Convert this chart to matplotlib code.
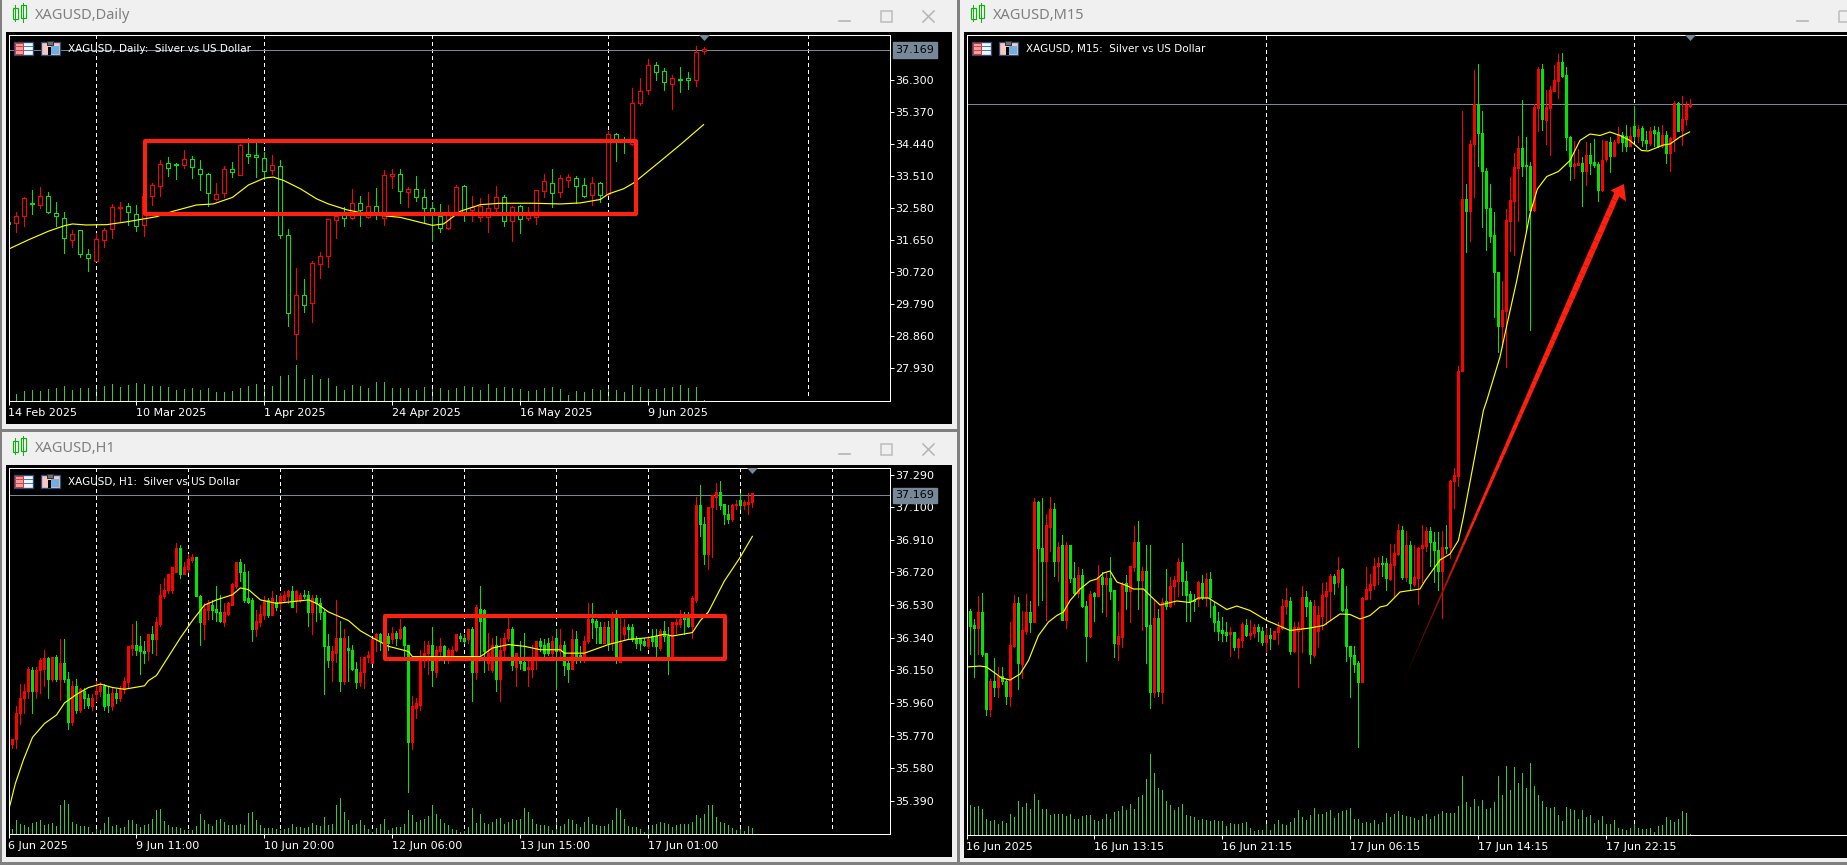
import matplotlib
matplotlib.use('Agg')
import matplotlib.pyplot as plt
from matplotlib.collections import LineCollection
from matplotlib.patches import Rectangle, Polygon
import numpy as np

W, H = 1847, 865
PX = 0.72  # one pixel in points at dpi 100
RED = '#ff0000'
GREEN = '#00e600'
LAST = 37.169

# ---- Daily
daily_open = [32.19,32.14,32.35,32.74,32.68,32.93,32.44,32.30,31.66,31.93,
 31.25,31.04,31.66,31.97,32.58,32.64,32.41,32.08,32.92,33.22,
 33.89,33.86,33.82,34.01,33.72,33.58,32.84,33.01,33.72,33.54,
 34.15,34.12,34.04,33.67,33.80,31.80,28.92,30.06,29.82,30.96,
 31.20,32.24,32.41,32.29,32.74,32.31,32.64,32.29,33.51,33.57,
 33.04,33.14,32.90,32.59,32.36,31.99,32.46,33.22,32.51,32.31,
 32.31,32.59,32.89,32.20,32.64,32.29,32.31,33.07,33.31,33.04,
 33.40,33.46,33.25,32.95,33.31,32.99,34.73,34.54,34.44,35.62,
 35.99,36.73,36.56,36.18,36.32,36.36,36.30,37.14]
daily_high = [32.19,32.48,32.91,33.09,33.20,33.06,32.77,32.48,31.95,31.95,
 31.40,31.85,32.00,32.70,32.76,32.72,32.68,32.94,33.32,33.96,
 34.07,33.89,34.25,34.10,33.96,33.60,33.32,33.81,33.93,34.44,
 34.60,34.46,34.20,34.13,33.96,31.98,30.83,30.53,31.06,31.32,
 32.27,32.45,32.60,33.12,32.94,33.06,33.15,33.67,33.70,33.70,
 33.20,33.52,33.12,32.75,32.70,32.68,33.26,33.25,32.94,32.88,
 32.99,33.22,32.97,32.65,32.68,32.62,33.11,33.57,33.70,33.55,
 33.57,33.51,33.44,33.49,33.34,34.81,34.77,34.65,36.07,36.34,
 36.89,36.83,36.65,36.45,36.66,36.54,37.27,37.25]
daily_low = [32.12,31.88,32.05,32.41,32.57,32.45,32.05,31.27,31.46,31.15,
 30.77,31.04,31.44,31.72,32.22,32.10,31.91,31.78,32.68,32.92,
 33.50,33.41,33.74,33.45,33.09,32.64,32.82,32.89,33.47,33.54,
 33.90,33.47,33.43,33.57,31.71,29.15,28.19,29.58,29.29,30.54,
 30.88,31.70,32.07,32.27,32.05,32.30,32.25,32.08,33.15,32.74,
 32.62,32.78,32.18,31.64,31.90,31.98,32.41,32.22,32.20,32.20,
 31.88,32.49,32.07,31.64,31.85,32.24,32.12,32.89,32.60,32.89,
 33.20,32.73,32.89,32.66,32.75,32.97,33.94,34.17,34.40,35.58,
 35.90,36.28,35.99,35.45,35.96,36.02,36.11,37.05]
daily_close = [32.12,32.35,32.88,32.70,32.93,32.47,32.34,31.71,31.83,31.25,
 31.13,31.69,31.95,32.61,32.61,32.48,32.07,32.94,33.25,33.86,
 33.74,33.83,34.01,33.77,33.56,33.01,32.99,33.72,33.63,34.41,
 34.08,34.06,33.65,33.83,31.81,29.53,30.06,29.77,30.99,31.19,
 32.27,32.36,32.29,32.74,32.51,32.64,32.45,33.54,33.57,33.07,
 33.14,32.89,32.58,32.41,31.99,32.46,33.19,32.44,32.60,32.65,
 32.59,32.89,32.20,32.62,32.27,32.41,33.09,33.37,33.01,33.46,
 33.48,33.23,32.94,33.31,32.95,34.73,34.54,34.51,35.64,35.98,
 36.73,36.53,36.23,36.36,36.29,36.29,37.11,37.18]
daily_vol = [3,20,30,33,29,35,38,45,33,38,38,42,45,50,42,48,54,50,45,45,
 42,33,36,38,33,38,26,27,30,38,45,50,48,45,75,78,108,66,78,66,
 69,45,33,48,45,39,57,57,39,39,39,33,42,39,39,33,39,45,42,33,
 50,39,42,39,36,30,33,39,42,36,18,30,27,36,33,36,33,27,48,42,
 36,36,38,42,48,39,42,3]
daily_ma_i = [0.1,2.5,5,7,8,9.7,12.3,15,17,18.5,20.6,23.5,25.6,28,30,32,33.1,34.4,36.5,38.5,
 40,42.3,44.8,49,53,54.4,56.5,59,61.5,65.6,69,71.5,74,75,76.9,78.1,78.8,81.5,84,86.9]
daily_ma = [31.40,31.66,31.91,32.07,32.12,32.09,32.10,32.19,32.27,32.33,32.49,32.67,32.70,32.89,33.25,33.45,33.48,33.38,33.14,32.85,
 32.70,32.53,32.41,32.31,32.08,32.12,32.49,32.68,32.72,32.72,32.70,32.73,32.83,32.99,33.14,33.30,33.43,33.94,34.42,35.00]
daily_prices = [36.30,35.37,34.44,33.51,32.58,31.65,30.72,29.79,28.86,27.93]
daily_tick_i = [0,16,32,48,64,80]
daily_ticks = ['14 Feb 2025','10 Mar 2025','1 Apr 2025','24 Apr 2025','16 May 2025','9 Jun 2025']
daily_grid = [11,32,53,75,100]

# ---- H1
h1_open = [35.69,35.72,35.75,35.90,35.99,36.03,36.15,36.03,36.15,36.16,
 36.22,36.10,36.23,36.10,36.19,36.10,35.85,36.06,35.92,36.03,
 35.99,35.94,36.01,36.03,36.06,36.01,35.94,36.02,35.99,36.04,
 36.08,36.28,36.30,36.29,36.26,36.26,36.36,36.33,36.42,36.58,
 36.62,36.62,36.72,36.86,36.71,36.74,36.79,36.81,36.58,36.42,
 36.50,36.53,36.51,36.49,36.43,36.48,36.53,36.64,36.78,36.72,
 36.57,36.56,36.39,36.43,36.47,36.56,36.47,36.55,36.54,36.56,
 36.58,36.61,36.56,36.56,36.59,36.59,36.49,36.57,36.54,36.49,
 36.29,36.21,36.25,36.34,36.09,36.28,36.27,36.16,36.08,36.14,
 36.23,36.19,36.33,36.36,36.29,36.35,36.33,36.37,36.34,36.40,
 36.30,35.73,35.93,35.95,36.21,36.25,36.30,36.14,36.26,36.29,
 36.24,36.23,36.27,36.35,36.34,36.33,36.39,36.14,36.51,36.50,
 36.19,36.15,36.30,36.10,36.27,36.34,36.39,36.17,36.23,36.20,
 36.16,36.16,36.21,36.32,36.30,36.31,36.25,36.34,36.26,36.30,
 36.19,36.16,36.33,36.24,36.21,36.32,36.45,36.44,36.40,36.31,
 36.40,36.31,36.46,36.20,36.36,36.40,36.40,36.33,36.33,36.32,
 36.29,36.35,36.35,36.28,36.38,36.35,36.23,36.42,36.42,36.48,
 36.47,36.41,36.56,37.11,37.00,36.83,37.10,37.16,37.19,37.12,
 37.06,37.03,37.11,37.14,37.11,37.12,37.13]
h1_high = [35.72,35.75,35.94,36.07,36.07,36.17,36.17,36.17,36.22,36.27,
 36.23,36.23,36.24,36.33,36.33,36.14,36.09,36.10,36.05,36.05,
 36.01,36.01,36.09,36.08,36.07,36.06,36.05,36.04,36.06,36.11,
 36.29,36.42,36.44,36.35,36.32,36.36,36.41,36.46,36.65,36.69,
 36.71,36.75,36.89,36.88,36.78,36.83,36.83,36.81,36.59,36.54,
 36.56,36.56,36.64,36.59,36.54,36.55,36.66,36.78,36.80,36.77,
 36.73,36.57,36.50,36.53,36.58,36.57,36.61,36.59,36.60,36.61,
 36.62,36.64,36.62,36.60,36.62,36.61,36.59,36.59,36.57,36.51,
 36.36,36.29,36.56,36.44,36.39,36.35,36.30,36.20,36.23,36.23,
 36.26,36.33,36.37,36.37,36.37,36.37,36.40,36.38,36.45,36.41,
 36.30,36.00,35.99,36.27,36.32,36.32,36.40,36.29,36.34,36.30,
 36.28,36.29,36.36,36.37,36.36,36.39,36.40,36.53,36.64,36.51,
 36.37,36.34,36.35,36.34,36.37,36.46,36.40,36.25,36.32,36.37,
 36.23,36.30,36.32,36.34,36.33,36.34,36.35,36.39,36.39,36.32,
 36.22,36.39,36.38,36.29,36.35,36.54,36.54,36.45,36.43,36.43,
 36.44,36.49,36.50,36.46,36.45,36.42,36.42,36.35,36.34,36.34,
 36.35,36.39,36.39,36.39,36.44,36.40,36.43,36.45,36.50,36.49,
 36.49,36.58,37.16,37.23,37.04,37.10,37.17,37.24,37.25,37.12,
 37.11,37.12,37.14,37.18,37.14,37.18,37.18]
h1_low = [35.69,35.70,35.70,35.84,35.90,35.99,35.90,35.99,36.02,36.06,
 35.99,36.09,36.09,35.98,36.08,35.81,35.83,35.90,35.91,35.93,
 35.93,35.92,35.97,36.00,35.92,35.91,35.92,35.96,35.97,36.02,
 36.05,36.24,36.24,36.13,36.19,36.21,36.25,36.24,36.41,36.57,
 36.60,36.60,36.72,36.69,36.71,36.72,36.78,36.58,36.30,36.33,
 36.45,36.45,36.44,36.43,36.41,36.47,36.53,36.63,36.67,36.55,
 36.54,36.32,36.35,36.41,36.45,36.46,36.47,36.50,36.51,36.55,
 36.54,36.52,36.49,36.55,36.57,36.41,36.36,36.44,36.45,36.01,
 36.17,36.09,36.20,36.03,36.07,36.09,36.15,36.05,36.06,36.05,
 36.20,36.19,36.26,36.27,36.29,36.27,36.31,36.30,36.33,36.23,
 35.44,35.69,35.87,35.92,36.17,36.13,36.06,36.11,36.23,36.19,
 36.19,36.23,36.26,36.32,36.31,36.31,35.97,36.10,36.22,36.14,
 36.15,36.14,36.03,35.97,36.23,36.32,36.15,36.06,36.16,36.15,
 36.06,36.11,36.16,36.26,36.23,36.24,36.22,36.04,36.23,36.12,
 36.08,36.16,36.19,36.20,36.20,36.31,36.34,36.31,36.31,36.31,
 36.27,36.27,36.19,36.20,36.33,36.33,36.32,36.28,36.27,36.29,
 36.28,36.29,36.23,36.27,36.32,36.13,36.23,36.37,36.40,36.36,
 36.40,36.34,36.55,36.93,36.77,36.74,36.81,37.09,37.09,37.00,
 37.01,37.02,37.09,37.09,37.09,37.06,37.10]
h1_close = [35.72,35.75,35.90,35.99,36.03,36.16,36.03,36.15,36.21,36.22,
 36.10,36.23,36.10,36.19,36.10,35.85,36.06,35.92,36.04,35.99,
 35.95,35.99,36.03,36.06,35.94,35.95,36.02,35.99,36.04,36.09,
 36.29,36.30,36.27,36.26,36.25,36.36,36.33,36.43,36.59,36.62,
 36.71,36.75,36.86,36.71,36.75,36.80,36.81,36.58,36.43,36.51,
 36.54,36.50,36.49,36.44,36.49,36.54,36.65,36.78,36.72,36.56,
 36.55,36.39,36.44,36.48,36.56,36.47,36.57,36.52,36.58,36.59,
 36.61,36.52,36.61,36.59,36.58,36.49,36.57,36.54,36.49,36.29,
 36.21,36.26,36.34,36.09,36.34,36.27,36.16,36.08,36.14,36.23,
 36.24,36.33,36.36,36.32,36.32,36.31,36.37,36.34,36.39,36.30,
 35.73,35.94,35.96,36.21,36.25,36.30,36.15,36.27,36.29,36.24,
 36.27,36.27,36.36,36.34,36.32,36.39,36.14,36.52,36.44,36.26,
 36.25,36.30,36.10,36.27,36.34,36.39,36.18,36.25,36.19,36.15,
 36.17,36.22,36.32,36.29,36.25,36.25,36.32,36.26,36.30,36.18,
 36.16,36.33,36.23,36.23,36.32,36.45,36.43,36.40,36.31,36.40,
 36.31,36.46,36.23,36.31,36.40,36.39,36.33,36.31,36.31,36.30,
 36.33,36.32,36.29,36.38,36.35,36.23,36.43,36.43,36.45,36.45,
 36.41,36.57,37.11,37.00,36.83,37.10,37.17,37.19,37.11,37.06,
 37.03,37.11,37.12,37.11,37.13,37.13,37.18]
h1_vol = [5,15,40,28,26,20,32,36,40,25,28,32,23,85,100,90,35,30,22,22,
 20,5,17,10,32,50,22,25,18,20,40,40,28,20,25,28,45,72,73,38,
 25,20,20,18,10,10,12,23,60,40,28,22,42,44,35,25,25,25,30,25,
 63,65,40,25,18,17,18,15,10,15,17,30,20,20,18,20,32,25,22,50,
 25,30,85,108,65,42,25,30,40,25,15,5,18,30,43,10,18,20,20,30,
 70,55,35,40,45,53,87,60,45,32,25,15,10,5,8,20,78,32,58,32,
 30,35,45,48,30,35,45,42,43,78,65,45,28,25,25,22,10,35,22,30,
 43,42,28,20,35,50,30,25,22,22,30,40,78,70,45,23,20,20,15,5,
 15,25,30,35,32,30,20,25,30,28,30,35,55,47,60,87,85,50,35,32,
 25,18,10,15,8,23,16]
h1_ma_i = [0.2,1.7,3.75,6,9,12,14,17,20,23,26,29,34,35,37,40,43,46,49,52,56,58,60,63,67,71,75,77,80,85,
 88,91,95,100,101,108,118,121,125,129,133,138,139,144,150,155,160,164,166,171,173,175,179,183,186]
h1_ma = [35.35,35.49,35.63,35.76,35.84,35.89,35.96,36.01,36.05,36.07,36.05,36.04,36.06,36.09,36.12,36.23,36.34,36.44,36.53,36.56,36.59,36.63,36.62,36.56,36.54,36.55,36.56,36.54,36.49,36.44,
 36.38,36.34,36.29,36.26,36.23,36.23,36.23,36.28,36.30,36.29,36.27,36.27,36.25,36.25,36.30,36.33,36.34,36.36,36.35,36.37,36.44,36.49,36.67,36.81,36.93]
h1_prices = [37.29,37.10,36.91,36.72,36.53,36.34,36.15,35.96,35.77,35.58,35.39]
h1_tick_i = [0,32,64,96,128,160]
h1_ticks = ['6 Jun 2025','9 Jun 11:00','10 Jun 20:00','12 Jun 06:00','13 Jun 15:00','17 Jun 01:00']
h1_grid = [22,45,68,91,114,137,160,183,206]

# ---- M15
m15_open = [36.118,36.155,36.127,36.120,36.153,36.070,35.958,36.014,36.002,36.024,
 36.015,35.985,36.085,36.170,36.048,36.115,36.153,36.133,36.373,36.280,
 36.255,36.322,36.358,36.255,36.287,36.137,36.287,36.220,36.190,36.227,
 36.165,36.104,36.190,36.185,36.222,36.208,36.220,36.197,36.088,36.102,
 36.210,36.195,36.242,36.292,36.217,36.235,36.126,35.992,36.140,35.992,
 36.173,36.164,36.204,36.215,36.253,36.215,36.188,36.176,36.178,36.210,
 36.182,36.218,36.165,36.133,36.117,36.113,36.108,36.113,36.083,36.097,
 36.127,36.107,36.110,36.123,36.114,36.092,36.107,36.098,36.112,36.120,
 36.164,36.175,36.074,36.114,36.118,36.183,36.173,36.067,36.115,36.145,
 36.184,36.194,36.224,36.212,36.238,36.158,36.085,36.067,36.050,36.012,
 36.178,36.197,36.207,36.244,36.250,36.250,36.218,36.247,36.268,36.317,
 36.222,36.287,36.208,36.220,36.280,36.285,36.315,36.293,36.277,36.235,
 36.283,36.282,36.415,36.425,36.634,36.978,36.955,37.088,37.168,37.111,
 37.035,36.961,36.907,36.833,36.725,36.754,36.935,36.975,37.040,37.081,
 37.047,37.045,36.956,37.160,37.239,37.136,37.160,37.195,37.215,37.253,
 37.227,37.103,37.045,37.046,37.051,37.035,37.067,37.052,37.049,36.996,
 37.058,37.093,37.065,37.092,37.107,37.105,37.085,37.124,37.105,37.120,
 37.096,37.090,37.116,37.112,37.085,37.107,37.070,37.098,37.171,37.116,
 37.138,37.164]
m15_high = [36.155,36.158,36.138,36.185,36.190,36.070,36.018,36.060,36.042,36.042,
 36.018,36.132,36.186,36.182,36.155,36.188,36.175,36.380,36.375,36.380,
 36.348,36.383,36.371,36.292,36.306,36.293,36.287,36.253,36.242,36.238,
 36.175,36.194,36.192,36.246,36.232,36.232,36.263,36.197,36.152,36.212,
 36.227,36.243,36.325,36.335,36.242,36.286,36.286,36.178,36.158,36.180,
 36.238,36.222,36.225,36.260,36.291,36.235,36.195,36.188,36.215,36.227,
 36.230,36.233,36.172,36.152,36.143,36.132,36.123,36.113,36.100,36.132,
 36.138,36.137,36.128,36.128,36.122,36.120,36.120,36.115,36.132,36.178,
 36.200,36.182,36.133,36.132,36.205,36.195,36.176,36.176,36.165,36.210,
 36.212,36.228,36.228,36.262,36.240,36.205,36.085,36.085,36.054,36.183,
 36.243,36.228,36.260,36.262,36.265,36.260,36.288,36.288,36.328,36.325,
 36.315,36.295,36.287,36.282,36.327,36.323,36.323,36.313,36.313,36.315,
 36.327,36.416,36.440,36.645,37.155,37.009,37.096,37.237,37.248,37.155,
 37.040,37.008,36.952,36.833,36.815,36.958,37.023,37.070,37.105,37.177,
 37.102,37.052,37.168,37.243,37.248,37.196,37.205,37.247,37.268,37.271,
 37.243,37.105,37.094,37.078,37.062,37.093,37.090,37.098,37.053,37.096,
 37.095,37.103,37.097,37.122,37.112,37.127,37.123,37.165,37.126,37.125,
 37.115,37.123,37.125,37.123,37.127,37.115,37.103,37.175,37.172,37.185,
 37.175,37.179]
m15_low = [36.117,36.068,36.022,36.068,36.065,35.947,35.945,35.985,35.982,36.008,
 35.968,35.965,36.082,35.998,36.020,36.108,36.112,36.132,36.167,36.176,
 36.137,36.275,36.225,36.215,36.137,36.120,36.212,36.188,36.182,36.162,
 36.054,36.102,36.135,36.185,36.152,36.145,36.178,36.063,36.057,36.082,
 36.158,36.133,36.235,36.158,36.116,36.050,35.960,35.983,35.985,35.970,
 36.158,36.162,36.168,36.185,36.187,36.135,36.135,36.155,36.164,36.178,
 36.165,36.142,36.115,36.096,36.095,36.095,36.065,36.076,36.060,36.083,
 36.105,36.098,36.102,36.095,36.087,36.072,36.078,36.098,36.088,36.118,
 36.148,36.068,36.072,36.003,36.072,36.145,36.050,36.063,36.082,36.118,
 36.128,36.138,36.188,36.202,36.155,36.055,35.983,36.032,35.882,36.012,
 36.178,36.178,36.198,36.208,36.225,36.197,36.216,36.185,36.267,36.218,
 36.215,36.198,36.205,36.168,36.212,36.275,36.244,36.212,36.197,36.140,
 36.270,36.260,36.360,36.405,36.634,36.872,36.895,36.982,37.045,36.922,
 36.877,36.892,36.742,36.672,36.682,36.642,36.875,36.867,36.934,37.025,
 36.915,36.716,36.955,37.114,37.117,37.088,37.067,37.194,37.180,37.223,
 37.077,37.017,37.020,37.046,36.964,37.007,37.028,37.043,36.974,36.995,
 37.055,37.032,37.064,37.090,37.075,37.075,37.084,37.097,37.092,37.084,
 37.078,37.087,37.084,37.082,37.082,37.051,37.035,37.075,37.114,37.087,
 37.127,37.162]
m15_close = [36.155,36.125,36.120,36.152,36.068,35.958,36.014,36.002,36.024,36.014,
 35.985,36.087,36.170,36.050,36.117,36.152,36.133,36.373,36.280,36.255,
 36.325,36.358,36.255,36.283,36.137,36.287,36.220,36.190,36.227,36.164,
 36.104,36.188,36.185,36.222,36.208,36.220,36.195,36.090,36.103,36.208,
 36.195,36.243,36.292,36.217,36.235,36.125,35.992,36.140,35.994,36.173,
 36.164,36.205,36.215,36.253,36.214,36.187,36.175,36.174,36.212,36.182,
 36.218,36.182,36.133,36.115,36.110,36.107,36.112,36.083,36.098,36.127,
 36.107,36.110,36.123,36.114,36.093,36.106,36.100,36.114,36.122,36.165,
 36.177,36.075,36.122,36.122,36.182,36.164,36.068,36.165,36.146,36.187,
 36.195,36.224,36.210,36.236,36.157,36.084,36.065,36.048,36.012,36.180,
 36.198,36.208,36.245,36.250,36.248,36.220,36.248,36.270,36.317,36.222,
 36.287,36.210,36.222,36.280,36.287,36.315,36.292,36.277,36.235,36.283,
 36.281,36.415,36.427,36.635,36.978,36.955,37.088,37.168,37.110,37.034,
 36.960,36.905,36.832,36.725,36.755,36.937,36.976,37.042,37.081,37.044,
 37.044,36.956,37.162,37.239,37.138,37.162,37.197,37.217,37.253,37.225,
 37.102,37.045,37.048,37.051,37.035,37.067,37.050,37.046,36.997,37.056,
 37.094,37.065,37.092,37.108,37.093,37.085,37.104,37.105,37.118,37.096,
 37.090,37.115,37.110,37.084,37.107,37.070,37.100,37.171,37.115,37.139,
 37.167,37.168]
m15_vol = [3,88,83,85,77,46,41,45,31,40,36,61,53,100,83,96,76,123,103,78,
 78,58,61,61,63,55,61,48,48,55,58,58,43,41,48,61,46,68,71,85,
 73,91,76,113,118,168,241,185,141,133,100,90,73,83,91,58,55,53,43,46,
 43,41,43,41,40,25,36,31,33,36,37,19,11,13,13,31,13,31,43,33,
 28,38,51,73,53,43,58,81,63,63,68,73,50,66,71,73,81,46,48,36,
 37,36,43,33,38,66,53,61,70,60,57,54,50,45,57,62,47,57,62,72,
 65,64,65,87,177,99,84,108,87,105,78,80,99,177,120,207,135,204,156,186,
 141,216,147,120,102,84,81,84,60,42,84,78,74,48,75,54,60,34,45,57,
 33,33,45,21,18,15,21,39,21,18,18,21,9,27,30,54,45,39,48,72,
 66,3]
m15_ma_i = [0,3.4,5,6.75,8.8,10.9,13.4,15.5,18,20.5,22.6,24.25,25.9,28.4,30.9,32.6,34.25,35.9,37.6,40,41.75,44.25,46.3,48.4,52.6,55.9,58,60.5,65.1,67.6,
 70.9,75.1,80.9,85.9,89.25,93.4,95.9,98.4,100.9,103.4,105.1,108.4,113.4,114.7,118.4,120.9,123,124.25,126.75,129.25,130.1,133.4,135.1,137.6,140.9,142.75,145.1,148,150.9,153.4,
 155.9,158.4,160.9,163.4,165.9,168.8,170.5,174.25,175.9,178.4,180.8]
m15_ma = [36.042,36.044,36.042,36.032,36.020,36.016,36.028,36.055,36.105,36.132,36.145,36.152,36.175,36.198,36.214,36.218,36.230,36.234,36.212,36.205,36.198,36.198,36.182,36.166,36.174,36.171,36.180,36.180,36.157,36.164,
 36.155,36.135,36.115,36.120,36.125,36.148,36.147,36.138,36.145,36.162,36.165,36.192,36.198,36.215,36.256,36.268,36.295,36.342,36.448,36.555,36.575,36.662,36.725,36.815,36.948,36.998,37.023,37.033,37.055,37.095,
 37.108,37.105,37.112,37.105,37.095,37.075,37.074,37.086,37.088,37.102,37.112]
m15_tick_i = [0,32,64,96,128,160]
m15_ticks = ['16 Jun 2025','16 Jun 13:15','16 Jun 21:15','17 Jun 06:15','17 Jun 14:15','17 Jun 22:15']
m15_grid = [75,167]


def draw_chart(frame, bar0, step, ptop, pbot, o, hi, lo, c, vol, ma_i, ma, prices, tick_i, ticks, grid, hollow, tag):
    left, top, right, bottom = frame
    pos = [left / W, 1 - bottom / H, (right - left) / W, (bottom - top) / H]
    vol_ax = fig.add_axes(pos, zorder=1)
    vol_ax.set_facecolor('black')
    vol_ax.axis('off')
    ax = fig.add_axes(pos, zorder=2)
    ax.patch.set_visible(False)
    xlim = ((left - bar0) / step, (right - bar0) / step)
    ax.set_xlim(xlim)
    ax.set_ylim(pbot, ptop)
    vol_ax.set_xlim(xlim)
    vol_ax.set_ylim(0, (bottom - top) * 3)

    x = np.arange(len(vol))
    vol_ax.vlines(x, 0, vol, color='#32cd32', lw=PX, antialiased=False)

    for g in grid:
        ax.axvline(g, ymin=0.015, color='white', lw=PX, ls=(0, (3, 3)), zorder=0.5, antialiased=False)
    ax.axhline(LAST, color='#778899', lw=PX, zorder=0.6, antialiased=False)

    o, hi, lo, c = np.array(o), np.array(hi), np.array(lo), np.array(c)
    x = np.arange(len(o))
    for mask, col in ((c >= o, RED), (c < o, GREEN)):
        ax.vlines(x[mask], lo[mask], hi[mask], color=col, lw=PX, zorder=2, antialiased=False)
        body = np.minimum(o, c)[mask]
        ax.bar(x[mask], np.abs(c - o)[mask], bottom=body, width=4 / step if hollow else 2 / step,
               facecolor='black' if hollow else col, edgecolor=col, lw=PX, zorder=2.1, antialiased=False)
    ax.plot(ma_i, ma, color='#ffff00', lw=0.85, zorder=2.3)

    ax.set_xticks(tick_i)
    ax.set_xticklabels(ticks, ha='left')
    ax.tick_params(axis='x', colors='white', length=3.2, width=PX, pad=2, labelsize=8)
    ax.yaxis.tick_right()
    if prices:
        ax.set_yticks(prices)
        ax.set_yticklabels(['%.3f' % p for p in prices])
        ax.tick_params(axis='y', colors='white', length=3, width=PX, pad=1, labelsize=8)
    else:
        ax.set_yticks([])
    for s in ax.spines.values():
        s.set_color('white')
        s.set_linewidth(PX)
    if tag:
        ax.text(1 + 6 / (right - left), LAST, '%.3f' % LAST, transform=ax.get_yaxis_transform(), color='black',
                fontsize=8, va='center', ha='left', clip_on=False, zorder=6,
                bbox=dict(facecolor='#778899', edgecolor='#778899', pad=2))
    return ax


def px_rect(x, y, w, h, **kw):
    bg.add_patch(Rectangle((x, y), w, h, lw=kw.pop('lw', 0), **kw))


def title_bar(x, y, text):
    # small candle icon and window title
    for dx, top_, bot_, wick0, wick1 in ((0, 8, 19, 5, 21), (8, 5, 18, 3, 22)):
        bg.plot([x + dx + 2, x + dx + 2], [y + wick0, y + wick1], color='#10b010', lw=PX)
        px_rect(x + dx, y + top_, 5, bot_ - top_, facecolor='#f0fff0', edgecolor='#10b010', lw=PX * 1.2)
    bg.text(x + 22, y + 15.5, text, color='#7f7f7f', fontsize=10.5, family='Noto Sans', va='center', ha='left')


def win_buttons(x, y, close=True):
    bg.plot([x, x + 11], [y + 21, y + 21], color='#b4b4b4', lw=1.2)
    px_rect(x + 42, y + 11, 11, 11, facecolor='none', edgecolor='#bdbdbd', lw=1.1)
    if close:
        bg.plot([x + 84, x + 95], [y + 11, y + 22], color='#b4b4b4', lw=1.1)
        bg.plot([x + 84, x + 95], [y + 22, y + 11], color='#b4b4b4', lw=1.1)


def chart_label(x, y, text):
    # table icon
    px_rect(x, y - 6, 19, 13, facecolor='#f5f5f5', edgecolor='#254f7f', lw=PX * 1.3)
    px_rect(x + 1, y - 5, 8, 11, facecolor='#f0a0a0', edgecolor='#e03030', lw=PX)
    for k in range(1, 3):
        bg.plot([x + 1, x + 9], [y - 6 + 4 * k, y - 6 + 4 * k], color='#e04040', lw=PX)
        bg.plot([x + 10, x + 18], [y - 6 + 4 * k, y - 6 + 4 * k], color='#4080c0', lw=PX)
    # save icon
    px_rect(x + 27, y - 6, 19, 13, facecolor='#f8c8c0', edgecolor='#254f7f', lw=PX * 1.3)
    px_rect(x + 37, y - 2, 8, 8, facecolor='#6fb0e0')
    px_rect(x + 33, y - 7, 6, 4, facecolor='#707070', edgecolor='#303030', lw=PX)
    px_rect(x + 34, y - 1, 3, 8, facecolor='black')
    fg.text(x + 54, y + 1.2, text, color='white', fontsize=7.5, va='center', ha='left')


fig = plt.figure(figsize=(W / 100, H / 100), dpi=100, facecolor='#f0f0f0')

bg = fig.add_axes([0, 0, 1, 1], zorder=0)
bg.set_xlim(0, W)
bg.set_ylim(H, 0)
bg.axis('off')
px_rect(0, 0, 1.5, H, facecolor='#808080')
px_rect(957, 0, 3, H, facecolor='#808080')
px_rect(0, 429, 958, 2.5, facecolor='#808080')
px_rect(0, 862, W, 3, facecolor='#808080')
px_rect(6, 32, 946, 392, facecolor='black')
px_rect(6, 465, 946, 392, facecolor='black')
px_rect(964, 32, W - 964, 826, facecolor='black')
title_bar(13, 0, 'XAGUSD,Daily')
title_bar(13, 433, 'XAGUSD,H1')
title_bar(971, 0, 'XAGUSD,M15')
win_buttons(839, 0)
win_buttons(839, 433)
win_buttons(1797, 0, close=False)

draw_chart((8.5, 34.5, 889.5, 400.5), 8.33, 8, 37.614, 27.0, daily_open, daily_high, daily_low, daily_close,
           daily_vol, daily_ma_i, daily_ma, daily_prices, daily_tick_i, daily_ticks, daily_grid, True, True)
draw_chart((8.5, 467.5, 889.5, 833.5), 8.33, 4, 37.331, 35.2, h1_open, h1_high, h1_low, h1_close,
           h1_vol, h1_ma_i, h1_ma, h1_prices, h1_tick_i, h1_ticks, h1_grid, False, True)
draw_chart((966.5, 34.5, 1848.5, 834.5), 966.3, 4, 37.307, 35.707, m15_open, m15_high, m15_low, m15_close,
           m15_vol, m15_ma_i, m15_ma, [], m15_tick_i, m15_ticks, m15_grid, False, False)

# overlay for the things drawn on top of the charts
fg = fig.add_axes([0, 0, 1, 1], zorder=5)
fg.set_xlim(0, W)
fg.set_ylim(H, 0)
fg.axis('off')
fg.patch.set_visible(False)
bg = fg
chart_label(14, 47.5, 'XAGUSD, Daily:  Silver vs US Dollar')
chart_label(14, 480.5, 'XAGUSD, H1:  Silver vs US Dollar')
chart_label(972, 47.5, 'XAGUSD, M15:  Silver vs US Dollar')

# "last price" markers at the top of each chart
for tx, ty in ((699, 35), (747, 468), (1685, 35)):
    fg.add_patch(Polygon([(tx, ty), (tx + 11, ty), (tx + 5.5, ty + 6)], facecolor='#778899', lw=0))

# red boxes
for bx0, by0, bx1, by1 in ((145, 141, 636, 213.5), (385, 615.5, 725, 659)):
    fg.add_patch(Rectangle((bx0, by0), bx1 - bx0, by1 - by0, fill=False, edgecolor='#ff2010',
                           lw=4 * PX, joinstyle='round'))

# red arrow, thin and dark at its tail
tail = np.array([1401.7, 685.0])
neck = np.array([1618.0, 192.0])
ts = np.linspace(0, 1, 61)
pts = tail + ts[:, None] * (neck - tail)
segs = [[pts[k], pts[k + 1]] for k in range(60)]
mix = np.clip(ts[:-1] / 0.3, 0, 1)
cols = [(0.12 + 0.88 * m, 0.125 * m, 0.06 * m, 1) for m in mix]
widths = (0.4 + 5.6 * np.clip(ts[:-1] / 0.8, 0, 1)) * PX
fg.add_collection(LineCollection(segs, colors=cols, linewidths=widths, capstyle='butt'))
fg.add_patch(Polygon([(1624, 184), (1610.7, 190.3), (1626, 201.5)], facecolor='#ff2010', lw=0))

fig.savefig('out.png', dpi=100, facecolor=fig.get_facecolor())
